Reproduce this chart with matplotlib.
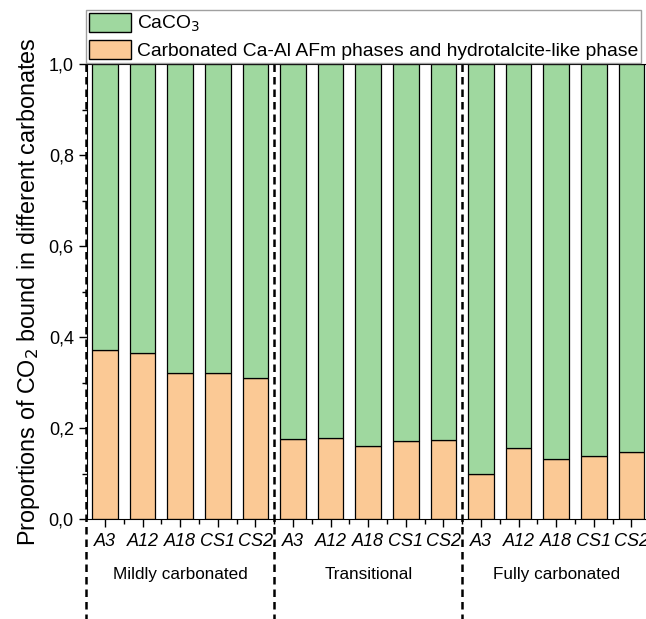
import matplotlib.pyplot as plt
from matplotlib.patches import Patch
from matplotlib.ticker import FuncFormatter, MultipleLocator, FixedLocator

plt.rcParams['font.family'] = ['Liberation Sans', 'DejaVu Sans']

samples = ['A3', 'A12', 'A18', 'CS1', 'CS2']
groups = ['Mildly carbonated', 'Transitional', 'Fully carbonated']
# fraction of CO2 bound in AFm / hydrotalcite-like phases
afm = [0.371, 0.364, 0.322, 0.321, 0.311,
       0.176, 0.178, 0.160, 0.171, 0.173,
       0.100, 0.157, 0.131, 0.138, 0.147]
caco3 = [1 - v for v in afm]

green = '#9fd89f'
orange = '#fbc995'

fig = plt.figure(figsize=(6.46, 6.19), dpi=100)
ax = fig.add_axes([0.1347, 0.1615, 0.8707, 0.7351])

x = list(range(1, len(afm) + 1))
ax.bar(x, afm, width=0.68, color=orange, edgecolor='black', linewidth=0.9)
ax.bar(x, caco3, width=0.68, bottom=afm, color=green, edgecolor='black', linewidth=0.9)

ax.set_xlim(0.52, 15.48)
ax.set_ylim(0, 1.0)

ax.set_xticks(x)
ax.set_xticklabels(samples * 3, fontstyle='italic', fontsize=13)
ax.xaxis.set_minor_locator(FixedLocator([i + 0.5 for i in range(0, 16)]))
ax.yaxis.set_major_locator(MultipleLocator(0.2))
ax.yaxis.set_minor_locator(MultipleLocator(0.1))
ax.yaxis.set_major_formatter(FuncFormatter(lambda v, p: f'{v:.1f}'.replace('.', ',')))
ax.tick_params(axis='both', which='major', direction='out', length=6, width=1, labelsize=13)
ax.tick_params(axis='both', which='minor', direction='out', length=3.5, width=1)
ax.tick_params(axis='x', which='major', pad=4)

ax.set_ylabel('Proportions of CO$_2$ bound in different carbonates', fontsize=16.8, labelpad=5)

# group separators and names
for xs in [0.5, 5.5, 10.5]:
    ax.plot([xs, xs], [1.0, -0.22], color='black', linestyle=(0, (3, 2)),
            linewidth=1.8, clip_on=False, zorder=5)
for i, g in enumerate(groups):
    ax.text(3 + 5 * i, -0.122, g, ha='center', va='center', fontsize=12.3,
            transform=ax.transData)

handles = [Patch(facecolor=green, edgecolor='black', label='CaCO$_3$'),
           Patch(facecolor=orange, edgecolor='black',
                 label='Carbonated Ca-Al AFm phases and hydrotalcite-like phase')]
fig.legend(handles=handles, loc='lower left', bbox_to_anchor=(86 / 646, 1 - 63 / 619),
           fontsize=13.9, frameon=True, fancybox=False, edgecolor='#888888',
           handlelength=2.2, handleheight=1.1, borderpad=0.15, labelspacing=0.3,
           handletextpad=0.3, borderaxespad=0)

fig.savefig('out.png', dpi=100)
